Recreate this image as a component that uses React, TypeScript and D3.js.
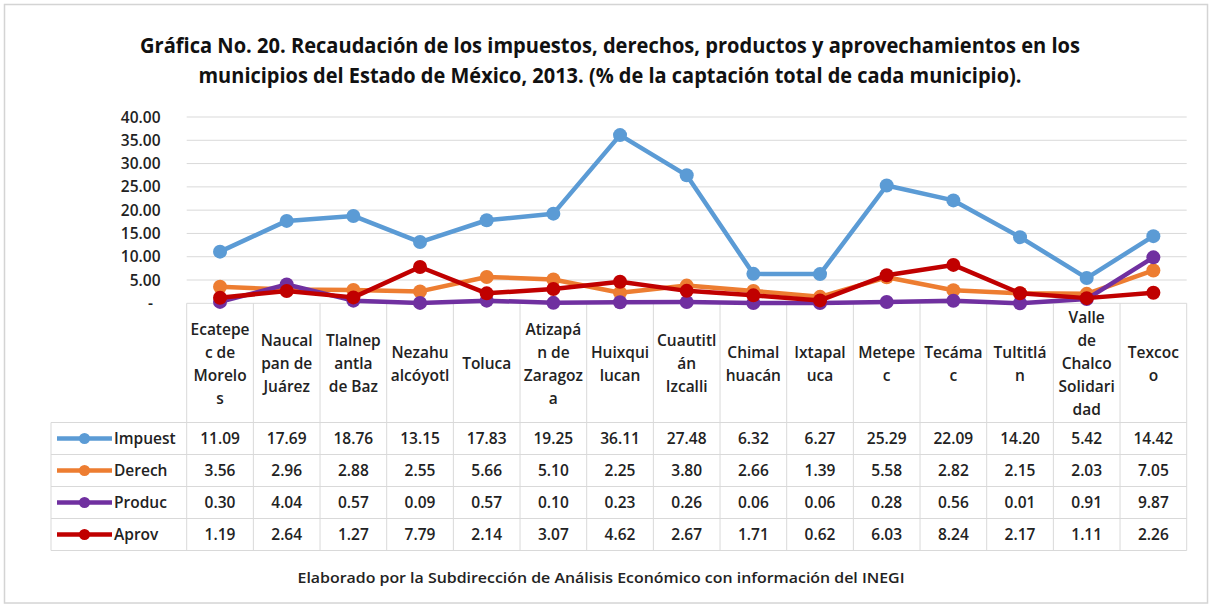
import React, { useEffect, useRef } from "react";
import * as d3 from "d3";

// municipios (etiquetas partidas como en la tabla de Excel)
const categoryLabels = [
  "Ecatepe\nc de\nMorelo\ns",
  "Naucal\npan de\nJuárez",
  "Tlalnep\nantla\nde Baz",
  "Nezahu\nalcóyotl",
  "Toluca",
  "Atizapá\nn de\nZaragoz\na",
  "Huixqui\nlucan",
  "Cuautitl\nán\nIzcalli",
  "Chimal\nhuacán",
  "Ixtapal\nuca",
  "Metepe\nc",
  "Tecáma\nc",
  "Tultitlá\nn",
  "Valle\nde\nChalco\nSolidari\ndad",
  "Texcoc\no",
];

const impuestos = [11.09, 17.69, 18.76, 13.15, 17.83, 19.25, 36.11, 27.48, 6.32, 6.27, 25.29, 22.09, 14.2, 5.42, 14.42];
const derechos = [3.56, 2.96, 2.88, 2.55, 5.66, 5.1, 2.25, 3.8, 2.66, 1.39, 5.58, 2.82, 2.15, 2.03, 7.05];
const productos = [0.3, 4.04, 0.57, 0.09, 0.57, 0.1, 0.23, 0.26, 0.06, 0.06, 0.28, 0.56, 0.01, 0.91, 9.87];
const aprovechamientos = [1.19, 2.64, 1.27, 7.79, 2.14, 3.07, 4.62, 2.67, 1.71, 0.62, 6.03, 8.24, 2.17, 1.11, 2.26];

const seriesNames = ["Impuest", "Derech", "Produc", "Aprov"];
const seriesColors = ["#5b9bd5", "#ed7d31", "#7030a0", "#c00000"];
const yTicks = [0, 5, 10, 15, 20, 25, 30, 35, 40];

const titleLines = [
  "Gráfica No. 20. Recaudación de los impuestos, derechos, productos y aprovechamientos en los",
  "municipios del Estado de México, 2013. (% de la captación total de cada municipio).",
];
const footer = "Elaborado por la Subdirección de Análisis Económico con información del INEGI";

const W = 1210;
const H = 607;
const FONT = "'Open Sans', 'Liberation Sans', sans-serif";

const App = () => {
  const svgRef = useRef<SVGSVGElement>(null);

  useEffect(() => {
    const svg = d3.select(svgRef.current);
    svg.selectAll("*").remove();

    const series = [impuestos, derechos, productos, aprovechamientos];
    const plotLeft = 186.7;
    const plotRight = 1186.7;
    const plotTop = 117;
    const plotBottom = 303.3;
    const headerBottom = 422.5;
    const rowH = 32;
    const tableLeft = 51;
    const tableBottom = headerBottom + rowH * series.length;

    const x = d3
      .scaleBand<number>()
      .domain(d3.range(categoryLabels.length))
      .range([plotLeft, plotRight]);
    const y = d3.scaleLinear().domain([0, 40]).range([plotBottom, plotTop]);
    const cx = (i: number) => (x(i) as number) + x.bandwidth() / 2;

    // marco exterior
    svg.append("rect")
      .attr("x", 0).attr("y", 0).attr("width", W).attr("height", H)
      .attr("fill", "#fff");
    svg.append("rect")
      .attr("x", 4.5).attr("y", 4.5).attr("width", 1203).attr("height", 598.5)
      .attr("fill", "none").attr("stroke", "#d4d4d4").attr("stroke-width", 1.5);

    // titulo
    titleLines.forEach((t, i) => {
      svg.append("text")
        .attr("x", 610)
        .attr("y", 52.5 + i * 30)
        .attr("text-anchor", "middle")
        .attr("font-family", FONT)
        .attr("font-weight", 700)
        .style("font-size", "21px")
        .attr("textLength", i === 0 ? 940 : 823)
        .attr("lengthAdjust", "spacingAndGlyphs")
        .attr("fill", "#111")
        .text(t);
    });

    // cuadricula
    svg.append("g")
      .selectAll("line")
      .data(yTicks)
      .enter().append("line")
      .attr("x1", plotLeft)
      .attr("x2", plotRight)
      .attr("y1", (d) => y(d))
      .attr("y2", (d) => y(d))
      .attr("stroke", "#d9d9d9")
      .attr("stroke-width", 1);

    // etiquetas eje y
    svg.append("g")
      .selectAll("text")
      .data(yTicks)
      .enter().append("text")
      .attr("x", (d) => (d === 0 ? 153 : 160.5))
      .attr("y", (d) => y(d))
      .attr("dy", "0.36em")
      .attr("text-anchor", "end")
      .attr("font-family", FONT)
      .attr("font-weight", 600)
      .style("font-size", "15.5px")
      .attr("fill", "#222")
      .text((d) => (d === 0 ? "-" : d3.format(".2f")(d)));

    // tabla de datos: lineas
    const grid = svg.append("g").attr("stroke", "#d9d9d9").attr("stroke-width", 1);
    d3.range(categoryLabels.length + 1).forEach((i) => {
      const xx = plotLeft + i * x.bandwidth();
      grid.append("line")
        .attr("x1", xx).attr("x2", xx)
        .attr("y1", plotBottom).attr("y2", tableBottom);
    });
    grid.append("line")
      .attr("x1", tableLeft).attr("x2", tableLeft)
      .attr("y1", headerBottom).attr("y2", tableBottom);
    d3.range(series.length + 1).forEach((r) => {
      const yy = headerBottom + r * rowH;
      grid.append("line")
        .attr("x1", tableLeft).attr("x2", plotRight)
        .attr("y1", yy).attr("y2", yy);
    });

    // etiquetas de categoria
    const headerMid = (plotBottom + headerBottom) / 2 + 1;
    categoryLabels.forEach((lab, i) => {
      const lines = lab.split("\n");
      lines.forEach((ln, k) => {
        svg.append("text")
          .attr("x", cx(i))
          .attr("y", headerMid + (k - (lines.length - 1) / 2) * 23)
          .attr("dy", "0.36em")
          .attr("text-anchor", "middle")
          .attr("font-family", FONT)
          .attr("font-weight", 600)
          .style("font-size", "15.5px")
          .attr("fill", "#222")
          .text(ln);
      });
    });

    // valores y leyenda de la tabla
    series.forEach((vals, s) => {
      const rowMid = headerBottom + s * rowH + rowH / 2;
      svg.append("line")
        .attr("x1", 57).attr("x2", 112)
        .attr("y1", rowMid).attr("y2", rowMid)
        .attr("stroke", seriesColors[s])
        .attr("stroke-width", 4.5);
      svg.append("circle")
        .attr("cx", 84.5).attr("cy", rowMid).attr("r", 5.5)
        .attr("fill", seriesColors[s]);
      svg.append("text")
        .attr("x", 114).attr("y", rowMid).attr("dy", "0.36em")
        .attr("font-family", FONT)
        .attr("font-weight", 600)
        .style("font-size", "15.5px")
        .attr("fill", "#222")
        .text(seriesNames[s]);
      vals.forEach((v, i) => {
        svg.append("text")
          .attr("x", cx(i)).attr("y", rowMid).attr("dy", "0.36em")
          .attr("text-anchor", "middle")
          .attr("font-family", FONT)
          .attr("font-weight", 600)
          .style("font-size", "15.5px")
          .attr("fill", "#222")
          .text(d3.format(".2f")(v));
      });
    });

    // lineas de series
    const line = d3.line<number>().x((_, i) => cx(i)).y((d) => y(d));
    series.forEach((vals, s) => {
      const g = svg.append("g");
      g.append("path")
        .attr("d", line(vals))
        .attr("fill", "none")
        .attr("stroke", seriesColors[s])
        .attr("stroke-width", 4.5)
        .attr("stroke-linejoin", "round");
      g.selectAll("circle")
        .data(vals)
        .enter().append("circle")
        .attr("cx", (_, i) => cx(i))
        .attr("cy", (d) => y(d))
        .attr("r", 7)
        .attr("fill", seriesColors[s]);
    });

    // pie
    svg.append("text")
      .attr("x", 601).attr("y", 583)
      .attr("text-anchor", "middle")
      .attr("font-family", FONT)
      .attr("font-weight", 600)
      .style("font-size", "14px")
      .attr("textLength", 607)
      .attr("lengthAdjust", "spacingAndGlyphs")
      .attr("fill", "#222")
      .text(footer);

    return () => {
      svg.selectAll("*").remove();
    };
  }, []);

  return (
    <svg
      ref={svgRef}
      width={W}
      height={H}
      style={{ position: "absolute", left: 0, top: 0, display: "block" }}
    />
  );
};

export default App;
